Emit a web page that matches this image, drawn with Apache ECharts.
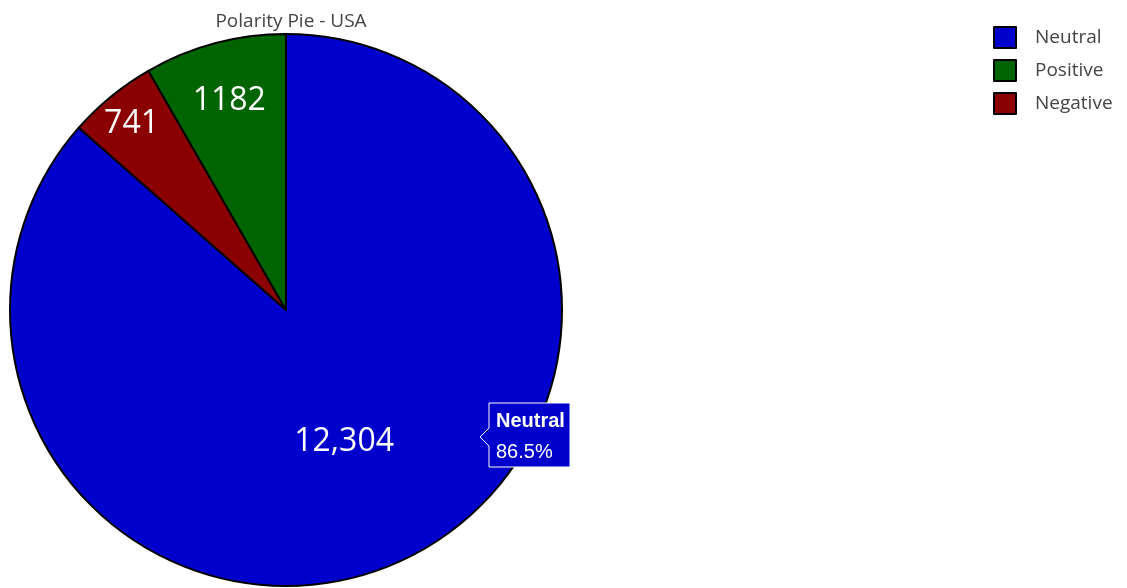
<!DOCTYPE html>
<html>
<head>
<meta charset="utf-8">
<script src="https://cdn.jsdelivr.net/npm/echarts@6/dist/echarts.min.js"></script>
<style>
  html, body { margin: 0; padding: 0; background: #fff; }
  #chart { width: 1127px; height: 588px; }
</style>
</head>
<body>
<div id="chart"></div>
<script>
// slice order is clockwise from 12 o'clock
var names = ['Neutral', 'Negative', 'Positive'];
var values = [12304, 741, 1182];
var colors = ['#0000CD', '#8B0000', '#006400'];
var legendOrder = ['Neutral', 'Positive', 'Negative'];
var hoverIndex = 0;

var total = values.reduce(function (a, b) { return a + b; }, 0);

function fmt(v) {
    // plotly style: no separator below 10000
    return v >= 10000 ? v.toLocaleString('en-US') : String(v);
}

var cx = 286, cy = 310, R = 276;
// small slices get their labels pushed out toward the rim
var labelRadius = [0.5, 0.865, 0.78];

var chart = echarts.init(document.getElementById('chart'));

var hoverName = names[hoverIndex];
var hoverPct = (values[hoverIndex] / total * 100).toFixed(1) + '%';

var option = {
    title: {
        text: 'Polarity Pie - USA',
        left: cx,
        textAlign: 'center',
        top: 7,
        textStyle: { color: '#444', fontSize: 19, fontWeight: 'normal', fontFamily: 'Open Sans' }
    },
    legend: {
        orient: 'vertical',
        left: 988,
        top: 21,
        itemWidth: 22,
        itemHeight: 21,
        itemGap: 10,
        icon: 'rect',
        data: legendOrder,
        itemStyle: { borderColor: '#000', borderWidth: 2 },
        textStyle: { color: '#444', fontSize: 19, lineHeight: 21, fontFamily: 'Open Sans', padding: [0, 0, 0, 14] }
    },
    series: [
        {
            name: 'Polarity',
            type: 'pie',
            center: [cx, cy],
            radius: [0, R],
            startAngle: 90,
            clockwise: true,
            avoidLabelOverlap: false,
            silent: true,
            animation: false,
            itemStyle: { borderColor: '#000', borderWidth: 2 },
            label: {
                show: true,
                position: 'inside',
                color: '#fff',
                fontSize: 32,
                fontFamily: 'Open Sans',
                formatter: function (p) { return fmt(p.value); }
            },
            labelLine: { show: false },
            labelLayout: function (p) {
                var k = labelRadius[p.dataIndex] / 0.5;
                var lx = p.labelRect.x + p.labelRect.width / 2;
                var ly = p.labelRect.y + p.labelRect.height / 2;
                return { x: cx + (lx - cx) * k, y: cy + (ly - cy) * k + 3 };
            },
            emphasis: { disabled: true },
            data: names.map(function (n, i) {
                return { name: n, value: values[i], itemStyle: { color: colors[i] } };
            })
        }
    ],
    graphic: [
        {
            type: 'group',
            x: 480,
            y: 437,
            z: 100,
            children: [
                {
                    type: 'polygon',
                    z: 100,
                    shape: { points: [[0, 0], [9, -9], [9, -34], [90, -34], [90, 30], [9, 30], [9, 9]] },
                    style: { fill: colors[hoverIndex], stroke: '#fff', lineWidth: 1 }
                },
                {
                    type: 'text',
                    z: 101,
                    x: 16, y: -16,
                    style: { text: hoverName, fill: '#fff', font: 'bold 20px Arial', verticalAlign: 'middle' }
                },
                {
                    type: 'text',
                    z: 101,
                    x: 16, y: 15,
                    style: { text: hoverPct, fill: '#fff', font: '20px Arial', verticalAlign: 'middle' }
                }
            ]
        }
    ]
};
chart.setOption(option);
</script>
</body>
</html>
